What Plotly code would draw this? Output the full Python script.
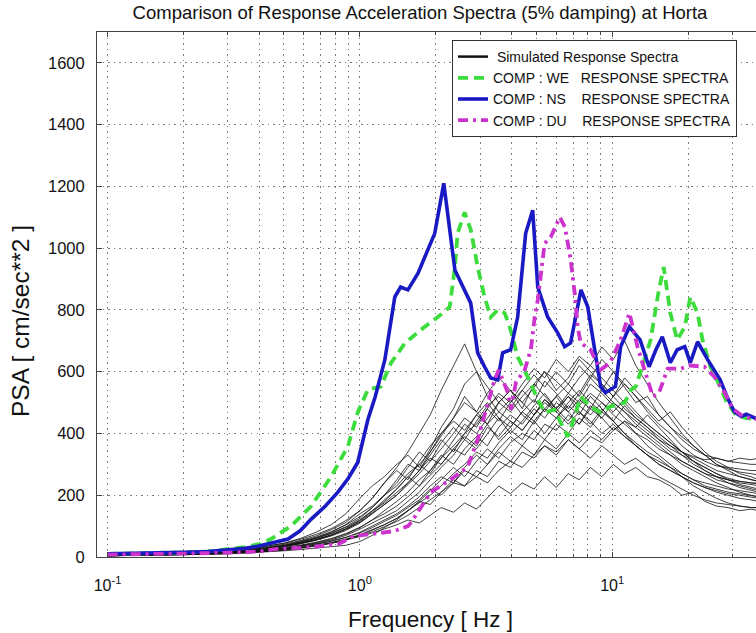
import plotly.graph_objects as go

# ---------------- data ----------------
FREQ_SIM = [0.1, 0.13, 0.17, 0.22, 0.28, 0.35, 0.42, 0.5, 0.58, 0.67, 0.77, 0.88, 1.0, 1.12,
            1.25, 1.4, 1.55, 1.72, 1.9, 2.1, 2.35, 2.6, 2.9, 3.2, 3.55, 3.95, 4.4, 4.9, 5.4,
            6.0, 6.7, 7.4, 8.2, 9.1, 10.1, 11.2, 12.4, 13.8, 15.3, 17.0, 18.9, 21.0, 23.3,
            25.9, 28.8, 32.0, 35.5, 38.0]

SIM_01 = [5,6,8,11,15,20,27,36,48,62,80,105,140,165,200,230,270,300,340,390,450,520,470,430,500,540,480,560,600,540,580,640,600,560,520,480,450,420,380,350,330,300,280,260,250,240,235,230]
SIM_02 = [4,5,7,9,12,16,21,28,35,44,55,70,90,110,130,150,180,210,250,290,330,380,350,400,450,420,470,510,470,520,560,520,580,640,600,550,500,520,460,420,390,360,330,300,280,260,250,245]
SIM_03 = [5,7,9,13,18,25,34,45,60,80,105,140,190,230,260,300,330,290,350,420,480,560,600,520,470,510,460,430,480,520,470,430,490,450,410,440,400,360,330,300,270,250,230,220,210,205,200,195]
SIM_04 = [4,5,6,8,11,15,19,25,31,38,47,58,72,88,105,125,150,175,200,230,270,300,340,320,370,410,380,440,480,450,500,540,500,470,520,560,520,480,440,470,420,380,340,310,290,270,260,250]
SIM_05 = [5,6,8,10,14,19,25,33,43,55,70,90,115,145,180,220,260,230,280,330,300,350,390,360,420,460,430,480,450,500,470,510,480,540,500,470,430,400,370,340,310,290,270,250,240,230,220,215]
SIM_06 = [4,6,8,12,17,23,31,41,53,68,88,112,150,190,240,280,250,310,360,400,440,410,460,500,450,400,440,490,530,480,520,470,430,480,440,400,360,330,300,280,260,240,225,215,205,200,195,190]
SIM_07 = [5,6,7,10,13,17,22,28,36,46,58,74,95,120,150,180,210,250,280,320,360,400,430,480,440,500,540,500,570,530,480,530,590,560,520,580,540,500,460,420,380,350,330,320,310,305,300,300]
SIM_08 = [4,5,6,8,10,13,17,22,28,35,44,55,68,82,98,115,135,160,185,210,240,230,260,240,280,310,290,330,360,340,380,350,390,370,410,440,420,460,420,380,340,310,280,260,240,225,215,210]
SIM_09 = [5,7,9,12,16,22,29,38,50,64,82,104,130,160,200,240,290,340,310,370,420,380,440,490,520,480,540,590,550,600,560,620,580,540,600,560,520,470,430,400,360,330,310,295,290,285,280,280]
SIM_10 = [4,5,7,9,12,16,21,27,34,42,52,64,80,100,120,140,165,195,230,260,240,290,330,300,350,390,360,410,380,430,400,450,420,470,440,490,450,420,390,360,330,310,290,270,255,245,240,235]
SIM_11 = [5,6,8,11,15,20,27,35,45,57,72,92,118,150,175,210,240,280,320,300,350,390,360,420,390,440,410,460,500,470,520,490,460,500,470,510,470,430,400,370,340,310,290,270,250,235,225,220]
SIM_12 = [4,6,8,11,15,21,28,37,47,60,76,96,120,150,185,220,260,300,270,320,380,430,400,450,500,470,520,560,520,480,530,580,620,580,540,500,460,430,400,370,340,320,300,280,270,260,250,245]
SIM_13 = [5,6,7,9,12,15,19,24,30,37,45,55,66,78,90,104,120,110,135,160,145,175,155,190,230,205,240,220,260,225,270,250,290,260,300,270,290,260,250,230,200,210,180,165,160,150,155,150]
SIM_14 = [4,5,7,10,14,19,25,33,42,54,68,86,110,140,170,200,240,280,330,380,340,400,460,430,380,420,470,440,400,450,490,460,520,480,440,400,370,340,320,290,260,230,210,190,175,165,160,160]
SIM_15 = [5,6,8,10,13,17,23,30,38,48,60,76,96,120,140,165,195,230,265,300,350,330,380,430,470,440,410,460,510,480,440,490,530,500,460,430,400,380,350,330,310,290,270,260,250,245,240,240]
SIM_16 = [4,5,6,8,11,14,18,23,29,36,45,56,70,86,104,125,150,180,215,250,290,260,310,350,320,370,400,380,430,410,460,430,480,450,500,470,440,410,380,360,340,325,315,320,310,320,315,320]
SIM_17 = [5,7,9,12,16,21,28,37,48,61,77,98,125,160,200,250,300,280,340,400,450,500,470,530,580,540,500,550,600,570,530,500,560,530,490,450,420,390,360,330,300,280,260,240,225,210,200,195]
SIM_18 = [4,5,7,9,12,16,20,26,33,41,51,63,78,95,115,135,160,185,220,200,240,280,260,300,340,310,360,330,380,350,400,370,410,380,420,390,360,330,310,290,270,250,240,230,220,215,210,205]
SIM_19 = [5,6,8,11,15,20,26,34,44,56,71,90,112,140,170,200,235,270,310,350,400,450,420,480,530,500,560,610,580,640,600,650,620,680,640,700,620,560,500,450,400,360,330,300,285,275,270,265]
SIM_20 = [5,7,10,14,19,26,34,44,57,73,92,118,150,190,240,290,340,400,460,540,620,690,600,550,500,540,500,460,510,470,430,470,440,400,430,390,360,330,300,280,260,240,225,210,200,190,185,180]
SIM_21 = [4,5,6,8,10,13,16,20,24,28,32,38,50,70,95,120,150,180,170,210,250,230,280,260,310,290,340,320,360,330,380,350,320,360,330,300,320,290,260,240,220,200,185,175,170,165,160,160]

SIM_CURVES = [SIM_01, SIM_02, SIM_03, SIM_04, SIM_05, SIM_06, SIM_07, SIM_08, SIM_09, SIM_10,
              SIM_11, SIM_12, SIM_13, SIM_14, SIM_15, SIM_16, SIM_17, SIM_18, SIM_19, SIM_20,
              SIM_21]

WE_F = [0.1, 0.15, 0.2, 0.25, 0.3, 0.35, 0.4, 0.444, 0.533, 0.64, 0.77, 0.896, 0.98, 1.076, 1.21,
        1.33, 1.51, 1.74, 2.09, 2.27, 2.38, 2.44, 2.6, 2.75, 2.93, 3.12, 3.3, 3.52, 3.75, 3.96,
        4.22, 4.62, 5.07, 5.4, 5.9, 6.25, 6.66, 7.1, 7.5, 8.2, 9.0, 9.8, 11.2, 11.9, 12.4, 13.2,
        14.2, 15.2, 16.0, 17.0, 18.1, 19.4, 20.4, 21.8, 22.8, 24.5, 26.5, 28.5, 31.0, 34.0, 38.0]
WE_V = [10, 12, 15, 18, 24, 32, 42, 58, 100, 164, 261, 358, 468, 542, 552,
        629, 693, 735, 784, 810, 939, 1048, 1116, 1060, 939, 842, 777, 800, 790, 735,
        648, 584, 510, 468, 477, 435, 390, 455, 519, 487, 468, 487, 500, 542, 552, 620,
        703, 850, 939, 790, 703, 745, 842, 790, 703, 616, 560, 500, 460, 450, 445]

NS_F = [0.1, 0.15, 0.2, 0.25, 0.3, 0.35, 0.394, 0.45, 0.519, 0.58, 0.64, 0.73, 0.818, 0.9, 0.98,
        1.076, 1.15, 1.256, 1.375, 1.45, 1.55, 1.70, 1.86, 1.98, 2.15, 2.38, 2.75, 2.93, 3.12,
        3.3, 3.52, 3.68, 3.96, 4.22, 4.54, 4.84, 5.07, 5.55, 6.08, 6.48, 6.84, 7.52, 8.0, 8.5,
        9.0, 9.4, 10.3, 10.8, 11.7, 12.9, 14.0, 14.9, 15.8, 17.0, 18.1, 19.4, 20.4, 21.8, 23.9,
        26.8, 28.5, 30.5, 32.5, 34.0, 38.0]
NS_V = [10, 12, 15, 18, 22, 28, 35, 45, 58, 85, 122, 165, 210, 255, 306,
        445, 519, 639, 842, 874, 865, 919, 994, 1048, 1210, 929, 822, 661, 616,
        580, 574, 661, 671, 777, 1048, 1123, 874, 777, 726, 681, 693, 865, 810, 671,
        552, 532, 552, 681, 745, 703, 616, 671, 713, 629, 671, 681, 629, 697, 639,
        574, 519, 470, 455, 462, 445]

DU_F = [0.1, 0.15, 0.2, 0.3, 0.4, 0.47, 0.64, 0.82, 0.95, 1.1, 1.37, 1.55, 1.6, 1.91, 2.3, 2.6,
        2.68, 2.93, 3.2, 3.42, 3.55, 3.86, 3.97, 4.15, 4.5, 4.76, 4.93, 5.07, 5.4, 5.7, 6.2,
        6.5, 6.85, 7.1, 7.3, 7.5, 8.2, 9.0, 9.8, 10.8, 11.7, 12.6, 13.5, 14.5, 15.3, 16.6,
        18.7, 20.4, 23.2, 25.4, 27.9, 30.0, 33.0, 38.0]
DU_V = [8, 9, 11, 14, 18, 26, 32, 42, 68, 74, 84, 100, 113, 210, 252, 284,
        294, 381, 487, 574, 606, 532, 477, 564, 606, 671, 777, 832, 1016, 1035, 1100,
        1068, 961, 855, 745, 693, 671, 606, 629, 703, 790, 681, 600, 520, 530, 610,
        610, 620, 616, 584, 532, 480, 455, 445]

X_TICK_VALS = [0.1, 1, 10]
X_TICK_TEXT = ["10<sup>-1</sup>", "10<sup>0</sup>", "10<sup>1</sup>"]
X_MINOR_VALS = [0.2, 0.3, 0.4, 0.5, 0.6, 0.7, 0.8, 0.9, 2, 3, 4, 5, 6, 7, 8, 9, 20, 30]
Y_TICK_VALS = [0, 200, 400, 600, 800, 1000, 1200, 1400, 1600]

LEGEND_NAMES = ["\u00a0Simulated Response Spectra",
                "COMP : WE\u00a0\u00a0\u00a0RESPONSE SPECTRA",
                "COMP : NS\u00a0\u00a0\u00a0\u00a0RESPONSE SPECTRA",
                "COMP : DU\u00a0\u00a0\u00a0\u00a0RESPONSE SPECTRA"]

# ---------------- figure ----------------
W, H = 756, 633
L, R, T, B = 97, 0, 32, 76
PW, PH = W - L - R, H - T - B
FONT = "Liberation Sans, Arial, Helvetica, sans-serif"

fig = go.Figure()

# legend entry for the simulated spectra (no data points)
fig.add_trace(go.Scatter(x=[None], y=[None], mode="lines", name=LEGEND_NAMES[0],
                         line=dict(color="#111111", width=2.5), legendgroup="sim",
                         showlegend=True, hoverinfo="skip"))
for curve in SIM_CURVES:
    fig.add_trace(go.Scatter(x=FREQ_SIM, y=curve, mode="lines",
                             line=dict(color="#111111", width=0.8),
                             legendgroup="sim", showlegend=False, hoverinfo="skip"))

fig.add_trace(go.Scatter(x=WE_F, y=WE_V, mode="lines", name=LEGEND_NAMES[1],
                         line=dict(color="#3ddc3d", width=3.8, dash="10px,6px")))
fig.add_trace(go.Scatter(x=NS_F, y=NS_V, mode="lines", name=LEGEND_NAMES[2],
                         line=dict(color="#1a1ac4", width=3.6)))
fig.add_trace(go.Scatter(x=DU_F, y=DU_V, mode="lines", name=LEGEND_NAMES[3],
                         line=dict(color="#cc33cc", width=3.8, dash="10px,5px,3px,5px")))

grid = dict(gridcolor="#7a7a7a", griddash="1.5px,4px", gridwidth=1)

fig.update_layout(
    width=W, height=H,
    margin=dict(l=L, r=R, t=T, b=B, pad=0),
    paper_bgcolor="white", plot_bgcolor="white",
    font=dict(family=FONT, color="#111111", size=16),
    title=dict(text="Comparison of Response Acceleration Spectra (5% damping) at Horta",
               x=420 / W, xanchor="center", y=1 - 13 / H, yanchor="middle",
               font=dict(size=18.5, family=FONT, color="#111111")),
    showlegend=True,
    legend=dict(x=(452 - L) / PW, y=1 - (40 - T) / PH,
                xanchor="left", yanchor="top",
                bgcolor="white", bordercolor="#333333", borderwidth=1,
                font=dict(size=14, family=FONT, color="#111111"),
                tracegroupgap=0, itemwidth=30),
    xaxis=dict(type="log", range=[-1.042, 1.57],
               tickmode="array", tickvals=X_TICK_VALS, ticktext=X_TICK_TEXT,
               showgrid=True, **grid,
               minor=dict(tickmode="array", tickvals=X_MINOR_VALS, showgrid=True,
                          ticks="inside", ticklen=3, tickcolor="#444444", **grid),
               ticks="inside", ticklen=5, tickcolor="#444444",
               showline=True, linecolor="#444444", linewidth=1, mirror="ticks",
               zeroline=False, ticklabelstandoff=14,
               tickfont=dict(size=16, family=FONT, color="#111111")),
    yaxis=dict(range=[0, 1700], tickmode="array", tickvals=Y_TICK_VALS,
               showgrid=True, **grid,
               ticks="inside", ticklen=5, tickcolor="#444444",
               showline=True, linecolor="#444444", linewidth=1, mirror=False,
               zeroline=False, ticklabelstandoff=8,
               tickfont=dict(size=16.5, family=FONT, color="#111111")),
    annotations=[
        dict(text="Frequency [ Hz ]", xref="paper", yref="paper",
             x=(430 - L) / PW, y=-(619 - (H - B)) / PH,
             xanchor="center", yanchor="middle", showarrow=False,
             font=dict(size=22.5, family=FONT, color="#111111")),
        dict(text="PSA [ cm/sec**2 ]", xref="paper", yref="paper", textangle=-90,
             x=(20 - L) / PW, y=((H - B) - 321) / PH,
             xanchor="center", yanchor="middle", showarrow=False,
             font=dict(size=24.5, family=FONT, color="#111111")),
    ],
)

# remove the browser's default 8px page margin so the figure sits at (0, 0)
fig.write_html("out.html", config={"displayModeBar": False},
               post_script="document.body.style.margin='0px';")
